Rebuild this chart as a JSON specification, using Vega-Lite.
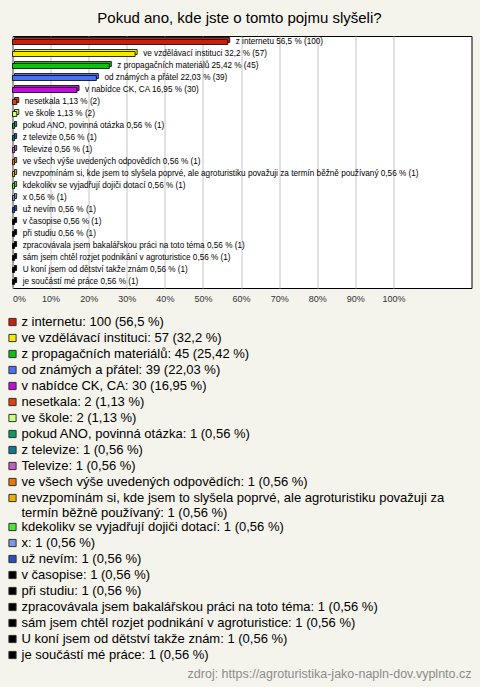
{
  "$schema": "https://vega.github.io/schema/vega-lite/v6.json",
  "background": "#f4f3ec",
  "padding": {"left": 6.5, "right": 10, "top": 10, "bottom": 0},
  "title": {"text": "Pokud ano, kde jste o tomto pojmu slyšeli?", "fontSize": 15, "fontWeight": "normal", "font": "Liberation Sans", "color": "#000000", "anchor": "middle", "offset": 10},
  "config": {"font": "Liberation Sans", "view": {"stroke": null}},
  "datasets": {
    "answers": [
      {"cat": "z internetu", "n": 100, "pct": 56.5},
      {"cat": "ve vzdělávací instituci", "n": 57, "pct": 32.2},
      {"cat": "z propagačních materiálů", "n": 45, "pct": 25.42},
      {"cat": "od známých a přátel", "n": 39, "pct": 22.03},
      {"cat": "v nabídce CK, CA", "n": 30, "pct": 16.95},
      {"cat": "nesetkala", "n": 2, "pct": 1.13},
      {"cat": "ve škole", "n": 2, "pct": 1.13},
      {"cat": "pokud ANO, povinná otázka", "n": 1, "pct": 0.56},
      {"cat": "z televize", "n": 1, "pct": 0.56},
      {"cat": "Televize", "n": 1, "pct": 0.56},
      {"cat": "ve všech výše uvedených odpovědích", "n": 1, "pct": 0.56},
      {"cat": "nevzpomínám si, kde jsem to slyšela poprvé, ale agroturistiku považuji za termín běžně používaný", "n": 1, "pct": 0.56},
      {"cat": "kdekolikv se vyjadřují  dojiči  dotací", "n": 1, "pct": 0.56},
      {"cat": "x", "n": 1, "pct": 0.56},
      {"cat": "už nevím", "n": 1, "pct": 0.56},
      {"cat": "v časopise", "n": 1, "pct": 0.56},
      {"cat": "při studiu", "n": 1, "pct": 0.56},
      {"cat": "zpracovávala jsem bakalářskou práci na toto téma", "n": 1, "pct": 0.56},
      {"cat": "sám jsem chtěl rozjet podnikání v agroturistice", "n": 1, "pct": 0.56},
      {"cat": "U koní jsem od dětství takže znám", "n": 1, "pct": 0.56},
      {"cat": "je součástí mé práce", "n": 1, "pct": 0.56}
    ]
  },
  "data": {"name": "answers"},
  "spacing": 10,
  "vconcat": [
    {
      "width": 459,
      "height": 252,
      "view": {"stroke": "#000000", "strokeWidth": 1, "fill": "#ffffff"},
      "encoding": {
        "y": {"field": "cat", "type": "nominal", "sort": null, "axis": null, "scale": {"paddingInner": 0, "paddingOuter": 0}},
        "x": {
          "field": "pct", "type": "quantitative",
          "scale": {"domain": [0, 120.5], "nice": false},
          "axis": {"values": [0, 10, 20, 30, 40, 50, 60, 70, 80, 90, 100], "labelExpr": "datum.value + '%'", "grid": true, "gridColor": "#c4c4c4", "gridWidth": 1, "domain": false, "ticks": false, "labelFontSize": 9, "labelColor": "#333333", "labelPadding": 6, "labelFlush": true, "title": null}
        }
      },
      "layer": [
        {
          "mark": {"type": "bar", "height": 5, "xOffset": 2, "yOffset": -2, "stroke": "#000000", "strokeWidth": 0.8},
          "encoding": {
            "color": {"field": "cat", "type": "nominal", "legend": null, "scale": {
              "domain": ["z internetu", "ve vzdělávací instituci", "z propagačních materiálů", "od známých a přátel", "v nabídce CK, CA", "nesetkala", "ve škole", "pokud ANO, povinná otázka", "z televize", "Televize", "ve všech výše uvedených odpovědích", "nevzpomínám si, kde jsem to slyšela poprvé, ale agroturistiku považuji za termín běžně používaný", "kdekolikv se vyjadřují  dojiči  dotací", "x", "už nevím", "v časopise", "při studiu", "zpracovávala jsem bakalářskou práci na toto téma", "sám jsem chtěl rozjet podnikání v agroturistice", "U koní jsem od dětství takže znám", "je součástí mé práce"],
              "range": ["#c8200e", "#f8e800", "#10c010", "#4a72f0", "#c010d8", "#e04010", "#c8ff80", "#109860", "#107890", "#c060c0", "#e87808", "#e8b000", "#50e040", "#7898e0", "#2850b8", "#000000", "#000000", "#000000", "#000000", "#000000", "#000000"]
            }}
          }
        },
        {
          "mark": {"type": "bar", "height": 5, "stroke": "#000000", "strokeWidth": 0.8},
          "encoding": {
            "color": {"field": "cat", "type": "nominal", "legend": null}
          }
        },
        {
          "transform": [{"calculate": "datum.cat + ' ' + replace(format(datum.pct, '.2~f'), '.', ',') + ' % (' + datum.n + ')'", "as": "lbl"}],
          "mark": {"type": "text", "align": "left", "baseline": "middle", "dx": 8, "fontSize": 8.2, "color": "#000000"},
          "encoding": {"text": {"field": "lbl", "type": "nominal"}}
        }
      ]
    },
    {
      "width": 459,
      "height": 375,
      "layer": [
        {
          "transform": [
            {"calculate": "datum.cat + ': ' + datum.n + ' (' + replace(format(datum.pct, '.2~f'), '.', ',') + ' %)'", "as": "leg0"},
            {"calculate": "replace(datum.leg0, 'považuji za ', 'považuji za\\n')", "as": "leg"},
            {"calculate": "indexof(datum.leg, '\\n') >= 0 ? 1.8125 : 1", "as": "units"},
            {"window": [{"op": "sum", "field": "units", "as": "cum"}], "frame": [null, 0]},
            {"calculate": "datum.cum - datum.units + 0.5", "as": "mid"}
          ],
          "layer": [
            {
              "mark": {"type": "point", "shape": "square", "size": 52, "filled": true, "opacity": 1, "stroke": "#333333", "strokeWidth": 1},
              "encoding": {
                "x": {"datum": 0, "type": "quantitative", "scale": {"domain": [0, 459], "nice": false, "zero": false}, "axis": null},
                "y": {"field": "mid", "type": "quantitative", "scale": {"domain": [0, 23.4375], "nice": false, "zero": false, "reverse": true}, "axis": null},
                "color": {"field": "cat", "type": "nominal", "legend": null}
              }
            },
            {
              "mark": {"type": "text", "align": "left", "baseline": "middle", "dx": 9, "fontSize": 13, "lineBreak": "\n", "lineHeight": 14.5, "color": "#000000"},
              "encoding": {
                "x": {"datum": 0, "type": "quantitative"},
                "y": {"field": "mid", "type": "quantitative"},
                "text": {"field": "leg", "type": "nominal"}
              }
            }
          ]
        },
        {
          "data": {"values": [{"t": "zdroj: https://agroturistika-jako-napln-dov.vyplnto.cz"}]},
          "mark": {"type": "text", "align": "right", "baseline": "middle", "fontSize": 12.5, "color": "#8c8c8c"},
          "encoding": {
            "x": {"datum": 459, "type": "quantitative"},
            "y": {"datum": 22.5, "type": "quantitative"},
            "text": {"field": "t", "type": "nominal"}
          }
        }
      ]
    }
  ]
}
